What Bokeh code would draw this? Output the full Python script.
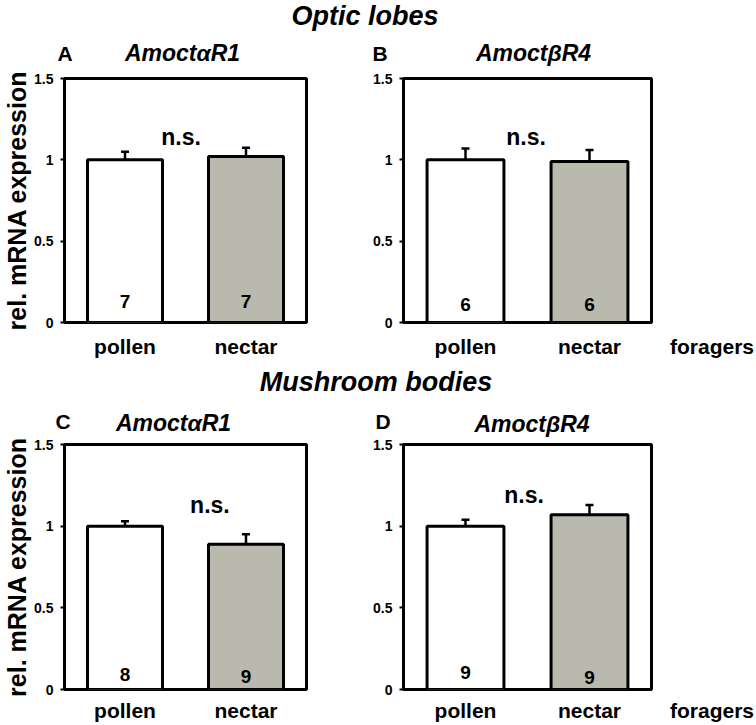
from bokeh.plotting import figure
from bokeh.models import (ColumnDataSource, Range1d, FactorRange, FixedTicker,
                          Label, Whisker, TeeHead)
from bokeh.layouts import column, row
from bokeh.embed import file_html
from bokeh.resources import INLINE

FONT = "Liberation Sans"
BASE_FIX = 0.33   # label baseline correction (fraction of font size)

# ---------------- data ----------------
categories = ["pollen", "nectar"]
region_titles = ["Optic lobes", "Mushroom bodies"]
panel_letters = ["A", "B", "C", "D"]
gene_names = ["AmoctαR1", "AmoctβR4", "AmoctαR1", "AmoctβR4"]

mean_A = [1.00, 1.02]
sem_A = [0.05, 0.055]
mean_B = [1.00, 0.99]
sem_B = [0.07, 0.07]
mean_C = [1.00, 0.89]
sem_C = [0.03, 0.06]
mean_D = [1.00, 1.07]
sem_D = [0.04, 0.06]

n_A = [7, 7]
n_B = [6, 6]
n_C = [8, 9]
n_D = [9, 9]

sig_labels = ["n.s.", "n.s.", "n.s.", "n.s."]

y_ticks = [0.0, 0.5, 1.0, 1.5]
y_tick_labels = ["0", "0.5", "1", "1.5"]
y_label = "rel. mRNA expression"
group_label = "foragers"

bar_colors = ["#ffffff", "#b9b9ae"]

# ---------------- layout / style ----------------
# in-frame text positions (px from frame left, px above frame bottom)
panel_style = [
    dict(sig=(117, 178), count=[15, 15]),
    dict(sig=(122.5, 178), count=[12, 12]),
    dict(sig=(146, 177), count=[9, 7]),
    dict(sig=(120.5, 187), count=[11, 6]),
]
XLAB_SIZE = "21px"


def label(x, y, text, size, style="bold", align="center"):
    return Label(x=x, y=y, text=text, text_font=FONT,
                 text_font_size=f"{size}px", text_font_style=style,
                 text_color="black", text_align=align,
                 text_baseline="alphabetic")


def blank_fig(width, height):
    f = figure(width=width, height=height, title=None,
               x_range=Range1d(0, width), y_range=Range1d(0, height),
               x_axis_location=None, y_axis_location=None,
               output_backend="svg", toolbar_location=None, min_border=0)
    f.outline_line_color = None
    f.grid.visible = False
    f.background_fill_color = "white"
    f.border_fill_color = "white"
    return f


def add_text(f, height, x, baseline_from_top, text, size, style="bold", align="center"):
    y = height - baseline_from_top + BASE_FIX * size
    f.add_layout(label(x, y, text, size, style, align))


def style_xaxis(xa, standoff):
    xa.axis_line_color = None
    xa.major_tick_out = 0
    xa.major_tick_in = 0
    xa.minor_tick_out = 0
    xa.minor_tick_in = 0
    xa.major_label_standoff = standoff
    xa.major_label_text_font = FONT
    xa.major_label_text_font_size = XLAB_SIZE
    xa.major_label_text_font_style = "bold"
    xa.major_label_text_color = "black"


def make_panel(idx, means, sems, ns, width, height, left, right, top, bottom,
               fw, fh, show_ylabel, xlab_standoff):
    p = figure(width=width, height=height, title=None,
               x_range=FactorRange(*categories, range_padding=0, factor_padding=0),
               y_range=Range1d(0, 1.5),
               output_backend="svg", toolbar_location=None,
               min_border_left=left, min_border_right=right,
               min_border_top=top, min_border_bottom=bottom)
    p.background_fill_color = "white"
    p.border_fill_color = "white"
    p.grid.visible = False
    p.outline_line_color = "black"
    p.outline_line_width = 3
    p.outline_line_alpha = 1.0

    ax = p.yaxis[0]
    ax.ticker = FixedTicker(ticks=y_ticks)
    ax.major_label_overrides = dict(zip(y_ticks, y_tick_labels))
    ax.axis_line_width = 3
    ax.axis_line_color = "black"
    ax.major_tick_out = 4
    ax.major_tick_in = 0
    ax.major_tick_line_width = 2
    ax.minor_tick_out = 0
    ax.minor_tick_in = 0
    ax.major_label_standoff = 7
    ax.major_label_text_font = FONT
    ax.major_label_text_font_size = "14px"
    ax.major_label_text_font_style = "bold"
    ax.major_label_text_color = "black"
    if show_ylabel:
        ax.axis_label = y_label
        ax.axis_label_text_font = FONT
        ax.axis_label_text_font_size = "25px"
        ax.axis_label_text_font_style = "bold"
        ax.axis_label_text_color = "black"
        ax.axis_label_standoff = 0

    style_xaxis(p.xaxis[0], xlab_standoff)

    src = ColumnDataSource(dict(cat=categories, top=means,
                                upper=[m + s for m, s in zip(means, sems)],
                                color=bar_colors))
    p.vbar(x="cat", top="top", bottom=0, width=0.62, source=src,
           fill_color="color", line_color="black", line_width=3)
    p.add_layout(Whisker(source=src, base="cat", lower="top", upper="upper",
                         line_color="black", line_width=2.5,
                         upper_head=TeeHead(size=8, line_width=2.5, line_color="black"),
                         lower_head=None))

    st = panel_style[idx]

    def px2data(rx, ry, size):
        return rx / fw * 2.0, (ry + BASE_FIX * size) / fh * 1.5

    x, y = px2data(st["sig"][0], st["sig"][1], 23)
    p.add_layout(label(x, y, sig_labels[idx], 23))
    for i, n in enumerate(ns):
        x, y = px2data((i + 0.5) / 2.0 * fw, st["count"][i], 19)
        p.add_layout(label(x, y, str(n), 19))
    return p


def make_group_strip(width, height, left, right, top, bottom, standoff):
    s = figure(width=width, height=height, title=None,
               x_range=FactorRange(group_label), y_range=Range1d(0, 1),
               y_axis_location=None,
               output_backend="svg", toolbar_location=None,
               min_border_left=left, min_border_right=right,
               min_border_top=top, min_border_bottom=bottom)
    s.outline_line_color = None
    s.grid.visible = False
    s.background_fill_color = "white"
    s.border_fill_color = "white"
    style_xaxis(s.xaxis[0], standoff)
    return s


# headers (page y 0..66 and 362..437)
h1 = blank_fig(756, 66)
add_text(h1, 66, 364.5, 24, region_titles[0], 27, "bold italic")
add_text(h1, 66, 57, 60, panel_letters[0], 21, "bold", "left")
add_text(h1, 66, 182, 60, gene_names[0], 23, "bold italic")
add_text(h1, 66, 372, 60, panel_letters[1], 21, "bold", "left")
add_text(h1, 66, 533, 60, gene_names[1], 23, "bold italic")

h2 = blank_fig(756, 75)
add_text(h2, 75, 375.5, 28, region_titles[1], 27, "bold italic")
add_text(h2, 75, 55, 66, panel_letters[2], 21, "bold", "left")
add_text(h2, 75, 173, 68, gene_names[2], 23, "bold italic")
add_text(h2, 75, 375, 66, panel_letters[3], 21, "bold", "left")
add_text(h2, 75, 531.5, 69.5, gene_names[3], 23, "bold italic")

fA = make_panel(0, mean_A, sem_A, n_A, 368, 296, 63, 62, 12, 40, 243, 244, True, 12)
fB = make_panel(1, mean_B, sem_B, n_B, 287, 296, 35, 4, 12, 40, 248, 244, False, 12)
s1 = make_group_strip(101, 296, 14, 2, 12, 40, 12)
fC = make_panel(2, mean_C, sem_C, n_C, 368, 287, 63, 62, 7, 35, 243, 245, True, 9)
fD = make_panel(3, mean_D, sem_D, n_D, 287, 287, 35, 4, 7, 35, 248, 245, False, 9)
s2 = make_group_strip(101, 287, 14, 2, 7, 35, 9)

page = column(h1, row(fA, fB, s1), h2, row(fC, fD, s2))

open("out.html", "w").write(file_html(page, INLINE))
